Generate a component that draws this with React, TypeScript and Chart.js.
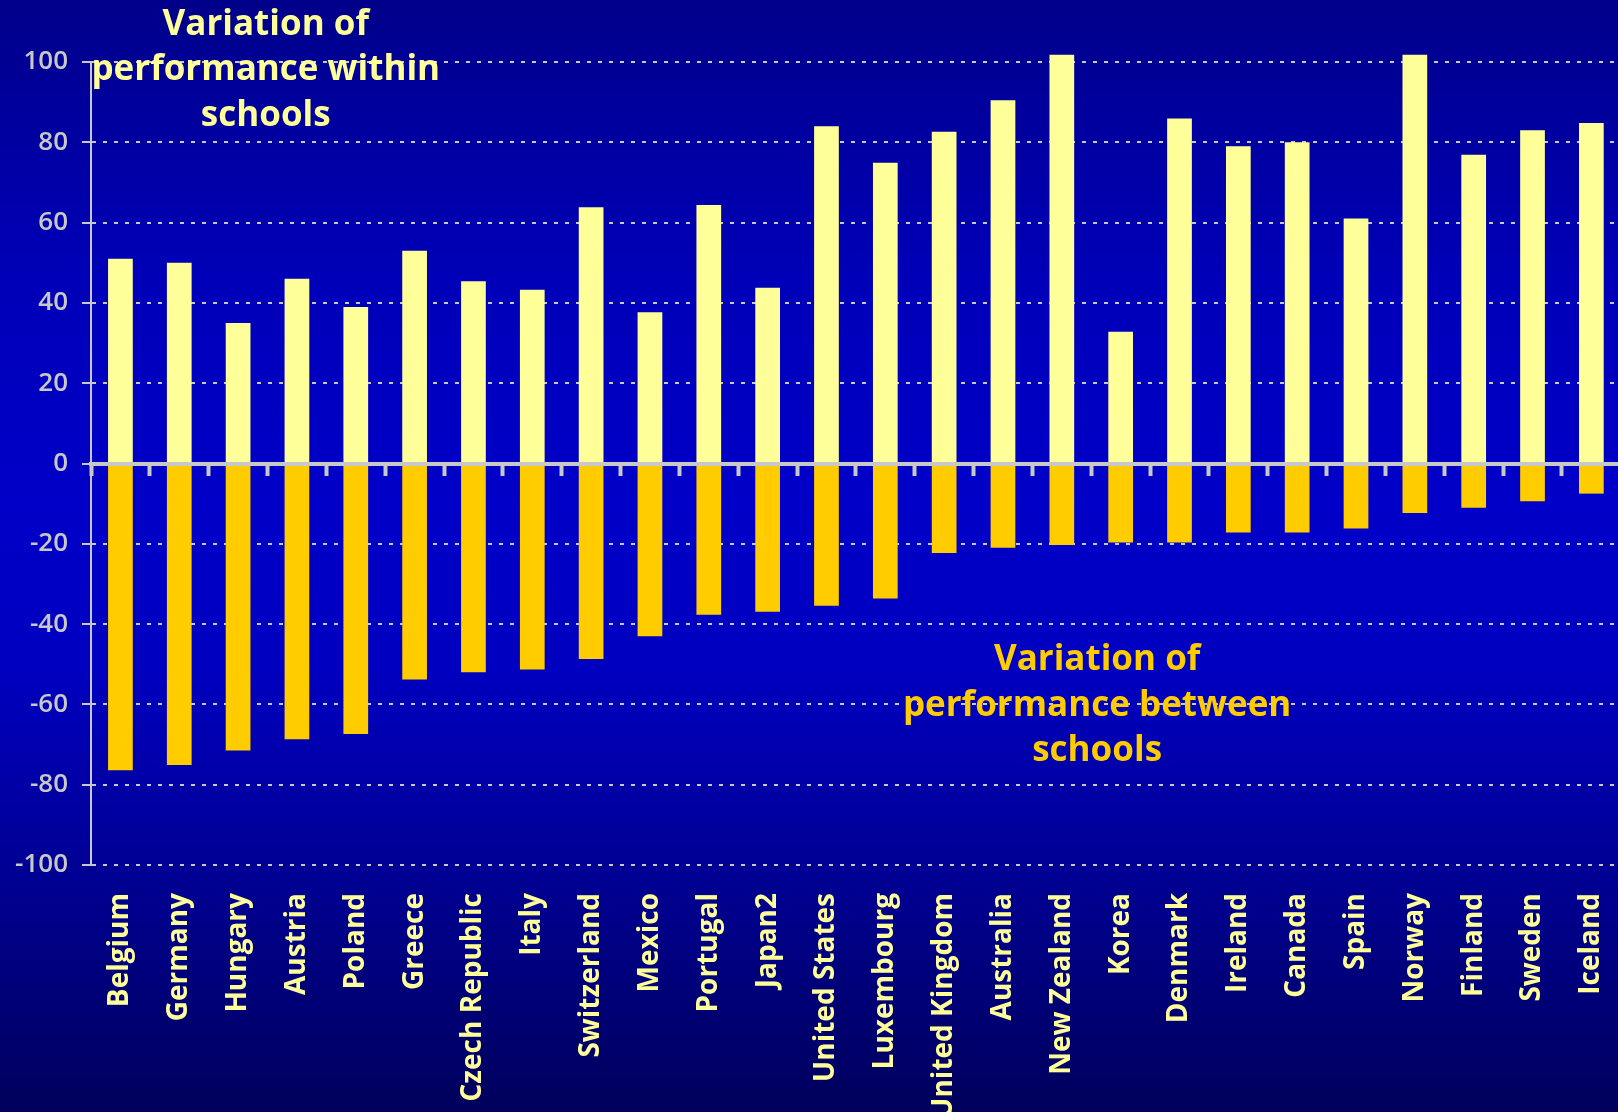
import React, { useEffect, useRef } from "react";
import { Chart, registerables } from "chart.js";

Chart.register(...registerables);

const countries = [
  "Belgium", "Germany", "Hungary", "Austria", "Poland", "Greece", "Czech Republic",
  "Italy", "Switzerland", "Mexico", "Portugal", "Japan2", "United States", "Luxembourg",
  "United Kingdom", "Australia", "New Zealand", "Korea", "Denmark", "Ireland", "Canada",
  "Spain", "Norway", "Finland", "Sweden", "Iceland",
];

const withinSchools = [
  51, 50, 35, 46, 39, 53, 45.4, 43.3, 63.8, 37.7, 64.4, 43.8, 84, 74.9,
  82.6, 90.5, 101.8, 32.8, 85.9, 79, 80, 61, 101.8, 76.9, 83, 84.8,
];

const betweenSchools = [
  -76.4, -75.1, -71.5, -68.7, -67.4, -53.8, -52, -51.3, -48.7, -43, -37.7, -36.9, -35.4, -33.6,
  -22.3, -21, -20.3, -19.7, -19.7, -17.2, -17.2, -16.2, -12.3, -11, -9.4, -7.5,
];

const yTicks = [-100, -80, -60, -40, -20, 0, 20, 40, 60, 80, 100];

const withinLabel = ["Variation of", "performance within", "schools"];
const betweenLabel = ["Variation of", "performance between", "schools"];

const FONT = "'Comic Sans MS', 'Open Sans', 'DejaVu Sans', sans-serif";

const annotationPlugin = {
  id: "annotations",
  afterDraw(chart: any) {
    const { ctx } = chart;
    const x = chart.scales.x;
    const y = chart.scales.y;
    const step = x.getPixelForValue(1) - x.getPixelForValue(0);
    ctx.save();
    ctx.font = `bold 35px ${FONT}`;
    ctx.textAlign = "center";
    ctx.textBaseline = "middle";
    // top annotation
    ctx.fillStyle = "#ffff99";
    const tx = x.getPixelForValue(2) + 0.47 * step;
    const ty = y.getPixelForValue(100);
    withinLabel.forEach((line, i) => {
      ctx.fillText(line, tx, ty - 37 + i * 45.5);
    });
    // bottom annotation
    ctx.fillStyle = "#ffcc00";
    const bx = x.getPixelForValue(16) + 0.6 * step;
    const by = y.getPixelForValue(-60);
    betweenLabel.forEach((line, i) => {
      ctx.fillText(line, bx, by - 44 + i * 45.5);
    });
    ctx.restore();
  },
};

export default function App() {
  const canvasRef = useRef<HTMLCanvasElement | null>(null);

  useEffect(() => {
    const canvas = canvasRef.current;
    if (!canvas) return;
    const chart = new Chart(canvas, {
      type: "bar",
      data: {
        labels: countries,
        datasets: [
          {
            label: "Variation of performance within schools",
            data: withinSchools,
            backgroundColor: "#ffff99",
            borderWidth: 0,
            clip: false as any,
          },
          {
            label: "Variation of performance between schools",
            data: betweenSchools,
            backgroundColor: "#ffcc00",
            borderWidth: 0,
            clip: false as any,
          },
        ],
      },
      options: {
        animation: false,
        responsive: false,
        maintainAspectRatio: false,
        layout: { padding: { top: 62, right: 2, left: 0, bottom: 0 } },
        datasets: {
          bar: { categoryPercentage: 1, barPercentage: 0.42 },
        },
        plugins: {
          legend: { display: false },
          tooltip: { enabled: false },
          title: { display: false },
        },
        scales: {
          x: {
            type: "category",
            position: "bottom",
            stacked: true,
            offset: true,
            grid: { display: false, drawTicks: false },
            border: { display: false },
            ticks: {
              autoSkip: false,
              maxRotation: 90,
              minRotation: 90,
              padding: 28,
              color: "#ffff99",
              font: { family: FONT, size: 28, weight: "bold" },
            },
            afterFit(scale: any) {
              scale.height = 247;
            },
          },
          xZero: {
            type: "category",
            axis: "x",
            position: { y: 0 } as any,
            labels: countries,
            offset: true,
            grid: {
              offset: true,
              drawOnChartArea: false,
              drawTicks: true,
              tickLength: 10,
              tickWidth: 4,
              tickColor: "#c8c8c8",
              z: 1,
            },
            border: { display: true, color: "#c8c8c8", width: 4, z: 1 },
            ticks: { display: false },
          } as any,
          y: {
            stacked: true,
            min: -100,
            max: 100,
            afterBuildTicks(scale: any) {
              scale.ticks = yTicks.map((v) => ({ value: v }));
            },
            grid: {
              color: "#c8c8c8",
              lineWidth: 2,
              drawTicks: true,
              tickLength: 9,
              tickWidth: 2,
              tickColor: "#c8c8c8",
            },
            border: { display: true, color: "#c8c8c8", width: 2, dash: [4, 7] },
            ticks: {
              padding: 14,
              color: "#c8c8c8",
              font: { family: FONT, size: 26, weight: 600 },
            },
            afterFit(scale: any) {
              scale.width = 91;
            },
          },
        },
      },
      plugins: [annotationPlugin],
    });
    return () => chart.destroy();
  }, []);

  return (
    <div
      style={{
        position: "fixed",
        left: 0,
        top: 0,
        width: 1618,
        height: 1112,
        overflow: "hidden",
        background:
          "linear-gradient(to bottom, #00008a 0%, #0000b8 25%, #0000c8 45%, #0000c0 60%, #000090 80%, #00005c 100%)",
      }}
    >
      <canvas ref={canvasRef} width={1653} height={1112} style={{ display: "block", width: 1653, height: 1112 }} />
    </div>
  );
}
